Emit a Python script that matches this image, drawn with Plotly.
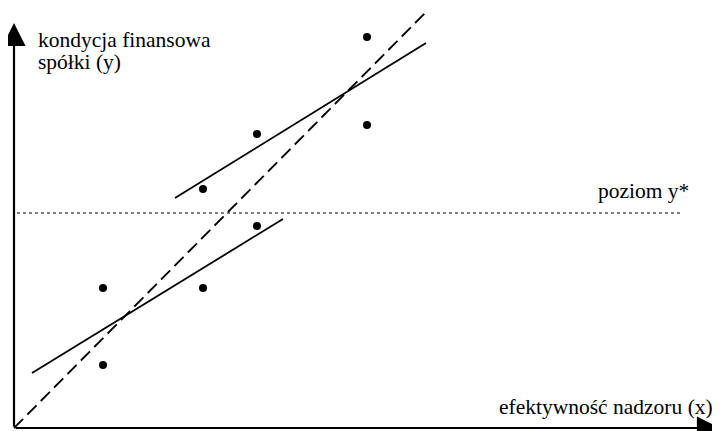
import plotly.graph_objects as go

# Observations (arbitrary units)
x_pts = [8.9, 8.9, 18.9, 18.9, 24.3, 24.3, 35.3, 35.3]
y_pts = [14.0, 6.3, 23.9, 14.0, 29.4, 20.2, 39.1, 30.3]

# Lower-group regression line
low_x = [1.8, 26.9]
low_y = [5.5, 20.9]
# Upper-group regression line
high_x = [16.1, 41.2]
high_y = [23.0, 38.5]
# Overall (dashed) line
all_x = [0.0, 41.1]
all_y = [0.0, 41.5]
# Threshold level y*
ystar = 21.5
ystar_x = [0.3, 66.9]

# Axis extents
x_axis_end = 70.6
y_axis_end = 40.5

labels = {
    "ylab1": "kondycja finansowa",
    "ylab2": "spółki (y)",
    "xlab": "efektywność nadzoru (x)",
    "ystar": "poziom y*",
}

FONT = "Liberation Serif, Times New Roman, serif"

fig = go.Figure()
fig.add_trace(go.Scatter(x=ystar_x, y=[ystar, ystar], mode="lines",
                         line=dict(color="black", width=1.2, dash="dot"), hoverinfo="skip"))
fig.add_trace(go.Scatter(x=all_x, y=all_y, mode="lines",
                         line=dict(color="black", width=1.8, dash="13px,6px"), hoverinfo="skip"))
fig.add_trace(go.Scatter(x=low_x, y=low_y, mode="lines",
                         line=dict(color="black", width=1.8), hoverinfo="skip"))
fig.add_trace(go.Scatter(x=high_x, y=high_y, mode="lines",
                         line=dict(color="black", width=1.8), hoverinfo="skip"))
fig.add_trace(go.Scatter(x=x_pts, y=y_pts, mode="markers",
                         marker=dict(color="black", size=8), hoverinfo="skip"))

# Axes with arrows
for (tx, ty) in [(0, y_axis_end), (x_axis_end, 0)]:
    fig.add_annotation(x=tx, y=ty, ax=0, ay=0, xref="x", yref="y", axref="x", ayref="y",
                       showarrow=True, arrowhead=2, arrowsize=2.1, arrowwidth=2.2,
                       arrowcolor="black", text="")

def label(text, x, y):
    fig.add_annotation(x=x, y=y, xref="x", yref="y", text=text, showarrow=False,
                       xanchor="left", yanchor="middle", borderpad=0,
                       font=dict(family=FONT, size=21.5, color="black"))

label(labels["ylab1"], 2.3, 38.8)
label(labels["ylab2"], 2.3, 36.6)
label(labels["xlab"], 48.4, 2.1)
label(labels["ystar"], 58.3, 23.7)

# The page body adds an 8px offset; figure sized/ranged to compensate
fig.update_layout(
    width=712, height=423, margin=dict(l=0, r=0, t=0, b=0, autoexpand=False),
    paper_bgcolor="white", plot_bgcolor="white", showlegend=False,
    xaxis=dict(range=[-0.6, 70.6], visible=False, showgrid=False, zeroline=False),
    yaxis=dict(range=[-0.3, 42.0], visible=False, showgrid=False, zeroline=False),
)
fig.write_html("out.html")
